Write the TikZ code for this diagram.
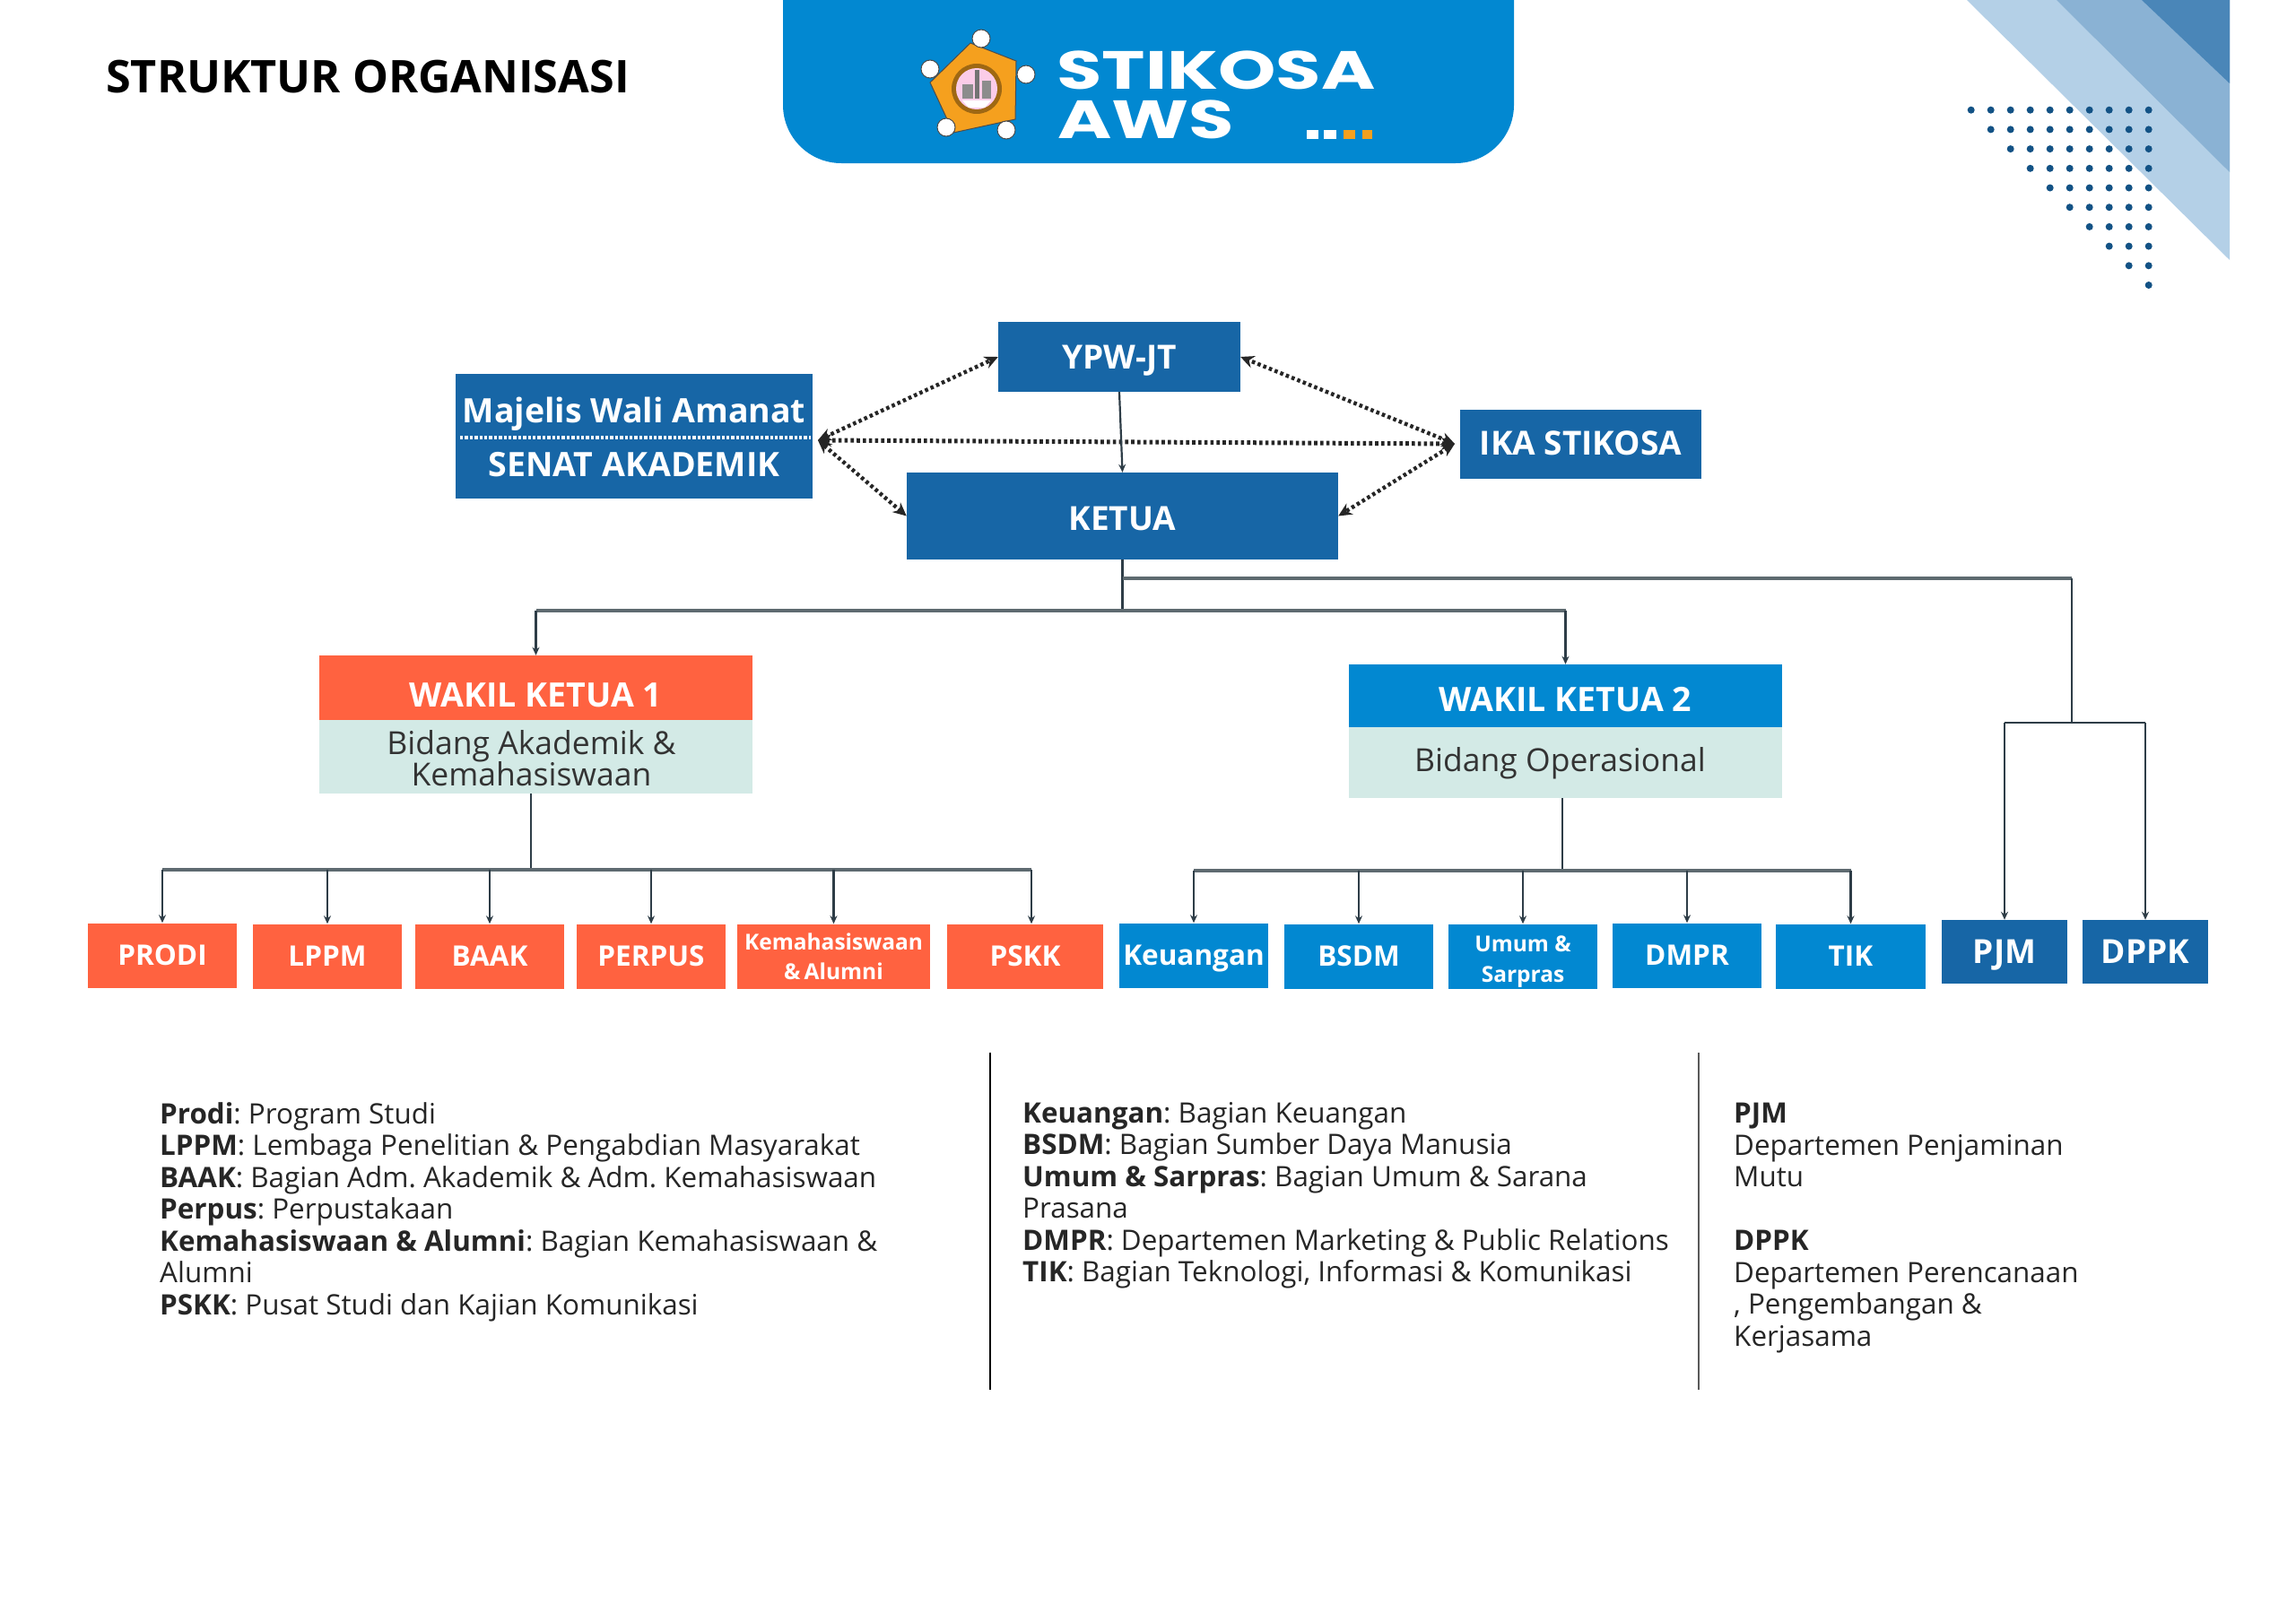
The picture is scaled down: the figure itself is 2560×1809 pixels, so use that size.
\documentclass[tikz,border=0pt]{standalone}
\usepackage{fontspec}
\setmainfont{Open Sans}
\newfontfamily\logofont{Poppins}
\usetikzlibrary{arrows.meta,calc}
\definecolor{orgorange}{HTML}{FF6240}
\definecolor{orgblue}{HTML}{0288D1}
\definecolor{orgnavy}{HTML}{1766A6}
\definecolor{orgpale}{HTML}{D3EAE6}
\definecolor{orgwire}{HTML}{2E3D47}
\definecolor{orgbus}{HTML}{5E6A70}
\definecolor{orggold}{HTML}{F5A01E}
\definecolor{orgbandA}{HTML}{B4D0E7}
\definecolor{orgbandB}{HTML}{8AB2D4}
\definecolor{orgbandC}{HTML}{4A86B8}
\tikzset{
	box/.style={draw=none,text=white,font=\bfseries\fontsize{#1}{#1}\selectfont,inner sep=0pt,align=center,
		text height={0.714*#1},text depth=0},
	box/.default=31.5,
	unitA/.style={box,fill=orgorange,minimum height=72},
	unitB/.style={box,fill=orgblue,minimum height=72},
	unitC/.style={box=37,fill=orgnavy,minimum width=140,minimum height=71},
	pair/.style={text height={},text depth={},font=\bfseries\fontsize{24.5}{33}\selectfont},
	topbox/.style={box=37,fill=orgnavy},
	body/.style={fill=orgpale,minimum width=483},
	bodytext/.style={text=black!80,inner sep=0pt,align=center,font=\fontsize{35.5}{35.5}\selectfont},
	logotext/.style={anchor=west,inner sep=0pt,text=white,xscale=#1,transform shape,text height=44,text depth=0,
		font=\logofont\bfseries\fontsize{60}{60}\selectfont},
	wire/.style={orgwire,line width=2.2pt},
	bus/.style={orgbus,line width=3.2pt},
	down/.style={wire,-{Stealth[length=9pt,width=8pt]}},
	link/.style={black!85,line width=4.4pt,dash pattern=on 3.6pt off 3.2pt,
		{Stealth[length=15pt,width=14pt]}-{Stealth[length=15pt,width=14pt]}},
	legend/.style={anchor=north west,inner sep=0pt,align=left,text=black!85,
		font=\frenchspacing\fontsize{31.4}{35.5}\selectfont},
	rule/.style={line width=2.4pt}
}
\begin{document}
\begin{tikzpicture}[x=1pt,y=-1pt]
	\useasboundingbox (0,0) rectangle (2560,1809);
	% corner
	\fill[white] (0,0) rectangle (2560,1809);
	\fill[orgbandA] (2193,0) -- (2486,0) -- (2486,290) -- cycle;
	\fill[orgbandB] (2293,0) -- (2486,0) -- (2486,192) -- cycle;
	\fill[orgbandC] (2388,0) -- (2486,0) -- (2486,93) -- cycle;
	\foreach \r in {0,...,9}
		\foreach \c in {\r,...,9}
			\fill[orgnavy!80!black] (2197.7+22*\c,122.7+21.7*\r) circle (4);
	% header
	\fill[orgblue] (873,0) -- (873,117) arc[start angle=180,end angle=90,radius=65] -- (1623,182)
		arc[start angle=90,end angle=0,radius=65] -- (1688,0) -- cycle;
	\fill[orggold,draw=black!70,line width=1pt] (1082,48) -- (1133,68) -- (1132,133) -- (1063,148) -- (1037,92) -- cycle;
	\fill[orggold!65!black] (1089,99) circle (28);
	\fill[white!80!magenta] (1089,99) circle (23);
	\fill[white] (1073,112) -- (1105,112) -- (1098,120) -- (1080,120) -- cycle;
	\fill[black!55] (1087,78) rectangle (1092,110);
	\fill[black!45] (1073,94) rectangle (1085,110);
	\fill[black!45] (1095,90) rectangle (1105,110);
	\foreach \p in {(1094,43),(1037,77),(1144,83),(1055,142),(1122,145)}
		\fill[white,draw=black!70,line width=1pt] \p circle (10);
	\node[logotext=1.365] (stikosa) at (1178,78) {STIKOSA};
	\node[logotext=1.365] (aws) at (1179,133) {AWS};
	\foreach \x/\w/\cc in {1457/13/white,1476/14/white,1498/13/orggold,1519/11/orggold}
		\fill[\cc] (\x,145) rectangle ++(\w,10);
	\node[anchor=west,inner sep=0pt,font=\bfseries\fontsize{50.3}{50.3}\selectfont] (title) at (118,86) {STRUKTUR ORGANISASI};
	% top
	\node[topbox,minimum width=398,minimum height=139] (majelis) at (707,486.5) {};
	\node[box=37.5,fill=none] (wali) at (707,458) {Majelis Wali Amanat};
	\node[box=37.5,fill=none] (senat) at (707,518) {SENAT AKADEMIK};
	\coordinate (sepL) at (513,488);
	\coordinate (sepR) at (904,488);
	\draw[white,line width=3.4pt,dotted] (sepL) -- (sepR);
	\node[topbox,minimum width=270,minimum height=78] (ypw) at (1248,398) {YPW-JT};
	\node[topbox,minimum width=481,minimum height=97,text height=31.4] (ketua) at (1251.5,575.5) {KETUA};
	\node[topbox,minimum width=269,minimum height=77,text height=23] (ika) at (1762.5,495.5) {IKA STIKOSA};
	\coordinate (majport) at (912,491);
	\coordinate (ikaport) at (1622,495);
	\draw[link,line width=5pt] (majport) -- (ikaport);
	\draw[link] (majport) -- (ypw.west);
	\draw[link] (majport) -- (ketua.west);
	\draw[link] (ikaport) -- (ypw.east);
	\draw[link] (ikaport) -- (ketua.east);
	\draw[down] (ypw.south) -- (ketua.north);
	% wakil
	\node[box=37.5,fill=orgorange,minimum width=483,minimum height=72,text height=42.8] (wk1) at (597.5,767) {WAKIL KETUA 1};
	\node[body,minimum height=82] (bd1) at (597.5,844) {};
	\node[bodytext] (bt1) at (592.5,845.5) {Bidang Akademik \&\\Kemahasiswaan};
	\node[box=37.5,fill=orgblue,minimum width=483,minimum height=70,text height=35.8] (wk2) at (1745.5,776) {WAKIL KETUA 2};
	\node[body,minimum height=79] (bd2) at (1745.5,850.5) {};
	\node[bodytext] (bt2) at (1739.5,851) {Bidang Operasional};
	\coordinate (busT) at (1251.5,681);
	\coordinate (busR) at (2310,645);
	\coordinate (busP) at (2310,806);
	\coordinate (busA) at (592,970);
	\coordinate (busB) at (1742,971);
	\draw[wire] (ketua.south) -- (busT);
	\draw[bus] (wk1.north |- busT) -- (wk2.north |- busT);
	\draw[down] (wk1.north |- busT) -- (wk1.north);
	\draw[down] (wk2.north |- busT) -- (wk2.north);
	\draw[bus] (ketua.south |- busR) -- (busR);
	\draw[wire] (busR) -- (busP);
	% units
	\node[unitA,minimum width=166] (prodi) at (181,1065.5) {PRODI};
	\node[unitA,minimum width=166] (lppm) at (365,1066.5) {LPPM};
	\node[unitA,minimum width=166] (baak) at (546,1066.5) {BAAK};
	\node[unitA,minimum width=166] (perpus) at (726,1066.5) {PERPUS};
	\node[unitA,pair,minimum width=215] (kema) at (929.5,1066.5) {Kemahasiswaan\\\&\,Alumni};
	\node[unitA,minimum width=174] (pskk) at (1143,1066.5) {PSKK};
	\node[unitB,minimum width=166] (keu) at (1331,1065.5) {Keuangan};
	\node[unitB,minimum width=166] (bsdm) at (1515,1066.5) {BSDM};
	\node[unitB,pair,minimum width=166] (umum) at (1698,1066.5) {\rule{0pt}{29pt}Umum \&\\[1pt]Sarpras};
	\node[unitB,minimum width=166] (dmpr) at (1881,1065.5) {DMPR};
	\node[unitB,minimum width=167] (tik) at (2063.5,1066.5) {TIK};
	\node[unitC] (pjm) at (2235,1061.5) {PJM};
	\node[unitC] (dppk) at (2392,1061.5) {DPPK};
	\draw[wire] (bd1.south -| busA) -- (busA);
	\draw[wire] (bd2.south -| busB) -- (busB);
	\draw[bus] (prodi.north |- busA) -- ($(pskk.north |- busA)+(7,0)$);
	\draw[bus] (keu.north |- busB) -- (tik.north |- busB);
	\foreach \n in {prodi,lppm,baak,perpus,kema}
		\draw[down] (\n.north |- busA) -- (\n.north);
	\draw[down] ($(pskk.north |- busA)+(7,0)$) -- ($(pskk.north)+(7,0)$);
	\foreach \n in {keu,bsdm,umum,dmpr,tik}
		\draw[down] (\n.north |- busB) -- (\n.north);
	\draw[wire,line width=2.8pt] (pjm.north |- busP) -- (dppk.north |- busP);
	\draw[down] (pjm.north |- busP) -- (pjm.north);
	\draw[down] (dppk.north |- busP) -- (dppk.north);
	% legend
	\node[legend] (legA) at (178,1229) {\textbf{Prodi}: Program Studi\\
		\textbf{LPPM}: Lembaga Penelitian \& Pengabdian Masyarakat\\
		\textbf{BAAK}: Bagian Adm. Akademik \& Adm. Kemahasiswaan\\
		\textbf{Perpus}: Perpustakaan\\
		\textbf{Kemahasiswaan \& Alumni}: Bagian Kemahasiswaan \&\\
		Alumni\\
		\textbf{PSKK}: Pusat Studi dan Kajian Komunikasi};
	\node[legend] (legB) at (1140,1229) {\textbf{Keuangan}: Bagian Keuangan\\
		\textbf{BSDM}: Bagian Sumber Daya Manusia\\
		\textbf{Umum \& Sarpras}: Bagian Umum \& Sarana\\
		Prasana\\
		\textbf{DMPR}: Departemen Marketing \& Public Relations\\
		\textbf{TIK}: Bagian Teknologi, Informasi \& Komunikasi};
	\node[legend] (legC) at (1933,1230) {\textbf{PJM}\\
		Departemen Penjaminan\\
		Mutu\\
		\mbox{}\\
		\textbf{DPPK}\\
		Departemen Perencanaan\\
		, Pengembangan \&\\
		Kerjasama};
	\coordinate (ruleAt) at (1104,1174);
	\coordinate (ruleAb) at (1104,1550);
	\coordinate (ruleBt) at (1894,1174);
	\coordinate (ruleBb) at (1894,1550);
	\draw[rule] (ruleAt) -- (ruleAb);
	\draw[rule,black!65] (ruleBt) -- (ruleBb);
\end{tikzpicture}
\end{document}
